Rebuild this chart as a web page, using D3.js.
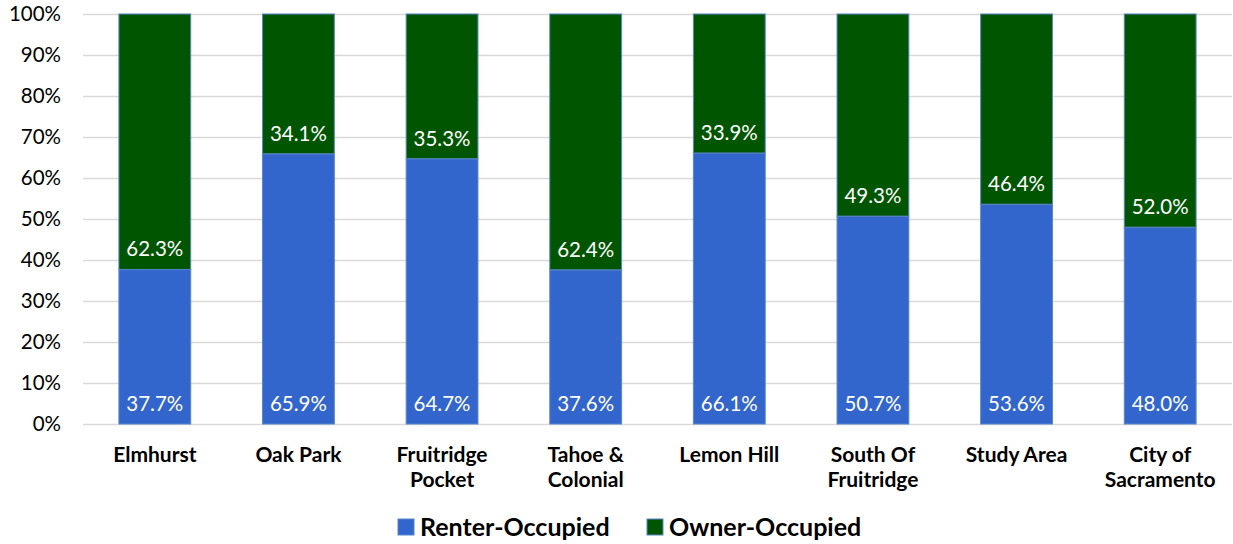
<!DOCTYPE html>
<html>
<head>
<meta charset="utf-8">
<script src="https://cdn.jsdelivr.net/npm/d3@7"></script>
<style>
  body { margin: 0; background: #fff; }
  text { font-family: Lato, "Open Sans", sans-serif; }
</style>
</head>
<body>
<div id="container"></div>
<script>
const categories = [
  ['Elmhurst'],
  ['Oak Park'],
  ['Fruitridge', 'Pocket'],
  ['Tahoe &', 'Colonial'],
  ['Lemon Hill'],
  ['South Of', 'Fruitridge'],
  ['Study Area'],
  ['City of', 'Sacramento'],
];
const renter = [37.7, 65.9, 64.7, 37.6, 66.1, 50.7, 53.6, 48.0];
const owner = [62.3, 34.1, 35.3, 62.4, 33.9, 49.3, 46.4, 52.0];
const yTicks = [0, 10, 20, 30, 40, 50, 60, 70, 80, 90, 100];
const seriesNames = ['Renter-Occupied', 'Owner-Occupied'];

const W = 1233;
const H = 544;
const margin = { top: 14, left: 83, bottom: 120, right: 1 };
const width = W - margin.left - margin.right;
const height = H - margin.top - margin.bottom;

const colors = ['#3366cc', '#005500'];

const svg = d3
  .select('#container')
  .append('svg')
  .attr('width', W)
  .attr('height', H);

const g = svg
  .append('g')
  .attr('transform', 'translate(' + margin.left + ',' + margin.top + ')');

const xScale = d3
  .scaleBand()
  .domain(d3.range(categories.length))
  .range([0, width])
  .paddingInner(0.5)
  .paddingOuter(0.25);

const yScale = d3.scaleLinear().domain([0, 100]).range([height, 0]);

// gridlines
g.append('g')
  .selectAll('line')
  .data(yTicks)
  .enter()
  .append('line')
  .attr('x1', 0)
  .attr('x2', width)
  .attr('y1', d => Math.round(yScale(d)) + 0.5)
  .attr('y2', d => Math.round(yScale(d)) + 0.5)
  .attr('stroke', '#d9d9d9')
  .attr('stroke-width', 1.5);

// y axis labels
const yAxis = d3
  .axisLeft(yScale)
  .tickValues(yTicks)
  .tickFormat(d => d + '%')
  .tickSize(0)
  .tickPadding(22);
const yAxisSvg = g.append('g').call(yAxis);
yAxisSvg.select('.domain').remove();
yAxisSvg
  .selectAll('text')
  .attr('font-size', '20.5px')
  .attr('fill', '#000')
  .style('font-family', 'Lato, sans-serif');

// stacked bars
const stackData = categories.map((c, i) => ({ i: i, r: renter[i], o: owner[i] }));
const stack = d3.stack().keys(['r', 'o'])(stackData);

stack.forEach((layer, k) => {
  const lg = g.append('g');
  lg.selectAll('rect')
    .data(layer)
    .enter()
    .append('rect')
    .attr('x', d => xScale(d.data.i))
    .attr('width', xScale.bandwidth())
    .attr('y', d => yScale(Math.min(d[1], 100)))
    .attr('height', d => yScale(d[0]) - yScale(Math.min(d[1], 100)))
    .attr('fill', colors[k])
    .attr('stroke', '#5b86c9')
    .attr('stroke-width', 1);
  lg.selectAll('text')
    .data(layer)
    .enter()
    .append('text')
    .attr('x', d => xScale(d.data.i) + xScale.bandwidth() / 2)
    .attr('y', d => yScale(d[0]) - 13)
    .attr('text-anchor', 'middle')
    .attr('font-size', '20.5px')
    .attr('fill', '#fff')
    .text(d => (d[1] - d[0]).toFixed(1) + '%');
});

// category labels
const xLabels = g
  .append('g')
  .selectAll('text')
  .data(categories)
  .enter()
  .append('text')
  .attr('x', (d, i) => xScale(i) + xScale.bandwidth() / 2)
  .attr('y', height + 38)
  .attr('text-anchor', 'middle')
  .attr('font-size', '21px')
  .attr('font-weight', 'bold')
  .attr('fill', '#000');
xLabels
  .selectAll('tspan')
  .data(d => d)
  .enter()
  .append('tspan')
  .attr('x', function () {
    return d3.select(this.parentNode).attr('x');
  })
  .attr('dy', (d, j) => (j === 0 ? 0 : 25))
  .text(d => d);

// legend
const legend = svg.append('g').attr('transform', 'translate(398,527)');
const legendX = [0, 249];
seriesNames.forEach((name, k) => {
  legend
    .append('rect')
    .attr('x', legendX[k])
    .attr('y', -8)
    .attr('width', 16)
    .attr('height', 16)
    .attr('fill', colors[k])
    .attr('stroke', '#5b86c9');
  legend
    .append('text')
    .attr('x', legendX[k] + 22)
    .attr('y', 9)
    .attr('font-size', '25px')
    .attr('font-weight', 'bold')
    .attr('fill', '#000')
    .text(name);
});
</script>
</body>
</html>
